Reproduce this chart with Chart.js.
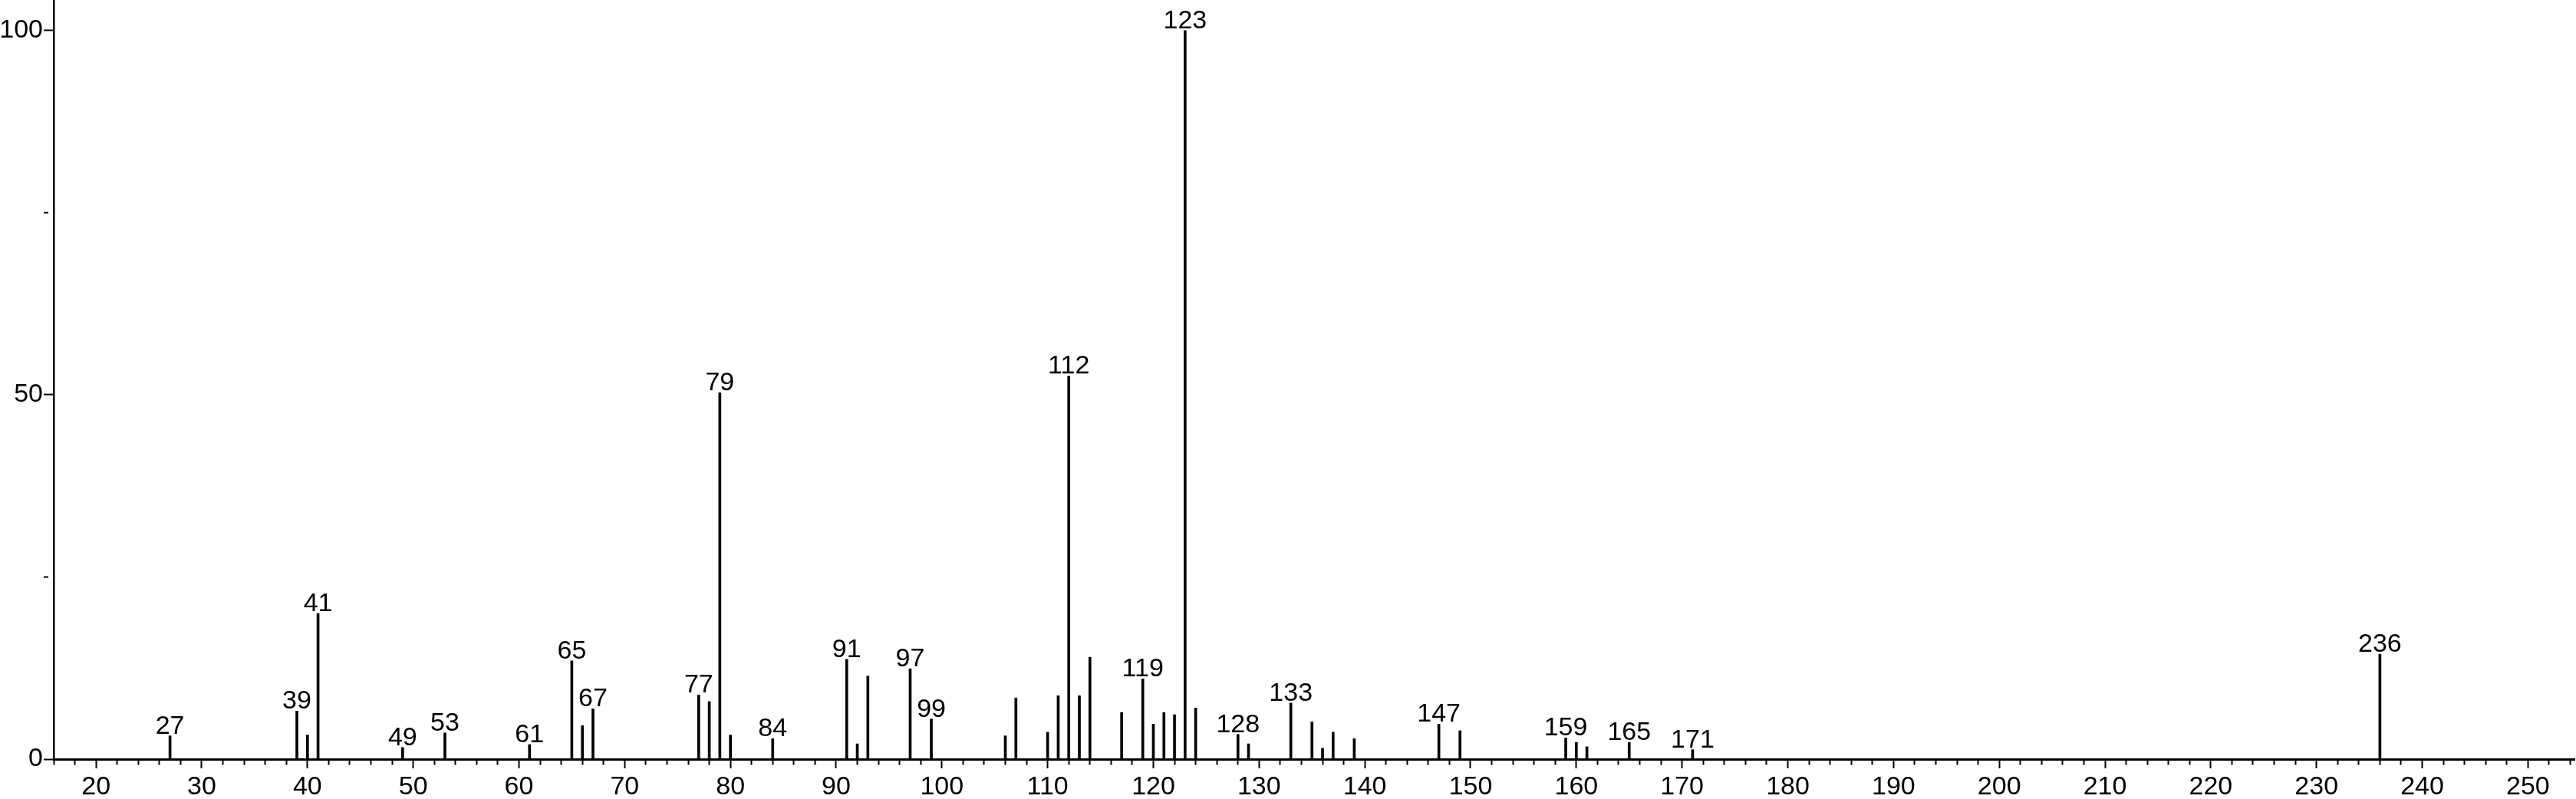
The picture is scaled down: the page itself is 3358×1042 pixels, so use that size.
<!DOCTYPE html>
<html>
<head>
<meta charset="utf-8">
<script src="https://cdn.jsdelivr.net/npm/chart.js@4.4.1/dist/chart.umd.min.js"></script>
<style>
    html, body { margin: 0; padding: 0; background: #fff; }
    #wrap { width: 3358px; height: 1042px; position: relative; }
</style>
</head>
<body>
<div id="wrap"><canvas id="spectrum"></canvas></div>
<script>
// m/z of each peak and its relative intensity (%)
const mz = [27, 39, 40, 41, 49, 53, 61, 65, 66, 67, 77, 78, 79, 80, 84, 91, 92, 93, 97, 99,
    106, 107, 110, 111, 112, 113, 114, 117, 119, 120, 121, 122, 123, 124, 128, 129,
    133, 135, 136, 137, 139, 147, 149, 159, 160, 161, 165, 171, 236];
const intensity = [3.2, 6.6, 3.3, 20.0, 1.6, 3.6, 2.0, 13.5, 4.6, 6.9, 8.8, 7.9, 50.3, 3.3, 2.8, 13.7, 2.1, 11.4, 12.4, 5.5,
    3.2, 8.4, 3.7, 8.7, 52.6, 8.7, 14.0, 6.4, 11.0, 4.8, 6.4, 6.1, 100, 7.0, 3.4, 2.1,
    7.7, 5.1, 1.5, 3.7, 2.8, 4.8, 3.9, 2.9, 2.3, 1.7, 2.3, 1.3, 14.4];
// peaks that carry a number above them
const labelled = [27, 39, 41, 49, 53, 61, 65, 67, 77, 79, 84, 91, 97, 99, 112, 119, 123, 128, 133, 147, 159, 165, 171, 236];

const xMin = 16, xMax = 254.4;
const yMin = 0, yMax = 104.2;

Chart.defaults.font.family = "'Liberation Sans', Arial, Helvetica, sans-serif";
Chart.defaults.color = '#000';

const peakLabels = {
    id: 'peakLabels',
    afterDatasetsDraw(chart) {
        const ctx = chart.ctx;
        const meta = chart.getDatasetMeta(0);
        ctx.save();
        ctx.font = "34px 'Liberation Sans', Arial, sans-serif";
        ctx.fillStyle = '#000';
        ctx.textAlign = 'center';
        ctx.textBaseline = 'alphabetic';
        mz.forEach((m, i) => {
            if (!labelled.includes(m)) return;
            const el = meta.data[i];
            ctx.fillText(String(m), el.x, el.y - 3);
        });
        ctx.restore();
    }
};

new Chart(document.getElementById('spectrum').getContext('2d'), {
    type: 'bar',
    data: {
        datasets: [{
            data: mz.map((m, i) => ({ x: m, y: intensity[i] })),
            backgroundColor: '#000',
            borderWidth: 0,
            barThickness: 3,
            grouped: false
        }]
    },
    options: {
        responsive: true,
        maintainAspectRatio: false,
        devicePixelRatio: 1,
        animation: false,
        layout: { padding: { left: 0, right: 2, top: 0, bottom: 0 } },
        plugins: {
            legend: { display: false },
            tooltip: { enabled: false }
        },
        scales: {
            x: {
                type: 'linear',
                min: xMin,
                max: xMax,
                offset: false,
                border: { color: '#000', width: 3 },
                grid: {
                    offset: false,
                    drawOnChartArea: false,
                    tickLength: 12,
                    tickWidth: 2,
                    tickColor: '#000',
                    tickBorderDash: (c) => (c.tick && c.tick.value % 10 !== 0) ? [5.5, 100] : []
                },
                ticks: {
                    stepSize: 2,
                    autoSkip: false,
                    includeBounds: false,
                    maxRotation: 0,
                    minRotation: 0,
                    padding: 4,
                    font: { size: 34 },
                    callback: (v) => v % 10 === 0 ? String(v) : ''
                },
                afterFit: (s) => { s.height = 52; s.paddingLeft = 0; s.paddingRight = 0; }
            },
            y: {
                min: yMin,
                max: yMax,
                border: { color: '#000', width: 2.5 },
                grid: {
                    drawOnChartArea: false,
                    tickLength: 13,
                    tickWidth: 2,
                    tickColor: '#000',
                    tickBorderDash: (c) => (c.tick && c.tick.value % 50 !== 0) ? [6, 100] : []
                },
                ticks: {
                    stepSize: 25,
                    includeBounds: false,
                    autoSkip: false,
                    padding: 1,
                    font: { size: 34 },
                    callback: (v) => v % 50 === 0 ? String(v) : ''
                },
                afterFit: (s) => { s.width = 70; s.paddingTop = 0; s.paddingBottom = 0; }
            }
        }
    },
    plugins: [peakLabels]
});
</script>
</body>
</html>
